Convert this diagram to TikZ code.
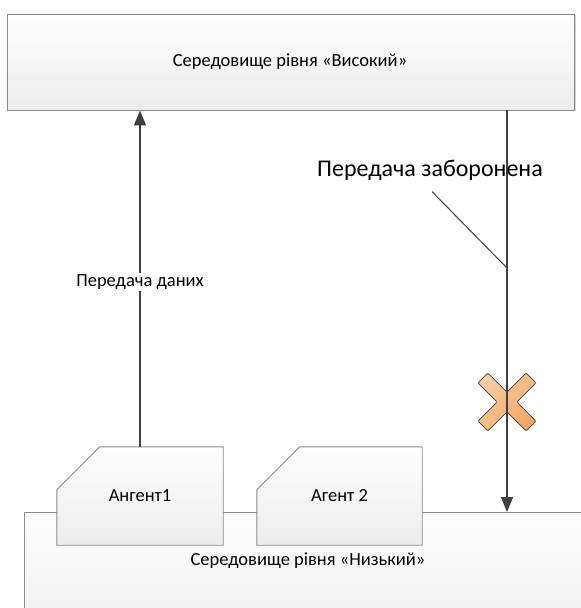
\documentclass[tikz,border=0pt]{standalone}
\usepackage{fontspec}
\setmainfont{Carlito}
\usetikzlibrary{arrows.meta,calc,shadows}

\definecolor{boxline}{HTML}{8A8A8A}
\definecolor{boxfill}{HTML}{ECECEC}
\definecolor{linkgray}{HTML}{404040}
\definecolor{crossfill}{HTML}{F4A865}
\definecolor{crosslight}{HTML}{F9CDA4}

\tikzset{
  envbox/.style={draw=boxline, line width=0.9bp, top color=white, bottom color=boxfill,
    inner sep=0pt},
  agentshape/.style={draw=boxline, line width=0.9bp, top color=white, bottom color=boxfill},
  agentbox/.style={inner sep=0pt, minimum height=98bp},
  txt/.style={font=\fontsize{18.5bp}{22bp}\selectfont, text=black},
  bigtxt/.style={font=\fontsize{24bp}{28bp}\selectfont, text=black},
  link/.style={draw=linkgray, line width=1.6bp, -{Triangle[length=15bp,width=12bp]}},
  pointer/.style={draw=linkgray, line width=1bp},
  crossmark/.style={draw=linkgray, line width=0.8bp, rounded corners=1.2bp,
    left color=crosslight, right color=crossfill, shading angle=45},
}

\begin{document}
\begin{tikzpicture}[x=1bp,y=-1bp]
  \useasboundingbox (0,0) rectangle (581,608);

  % upper environment
  \node[envbox, minimum width=567bp, minimum height=96bp,
        drop shadow={shadow xshift=1.5bp, shadow yshift=-1.5bp, opacity=0.35}]
        (high) at (290.5,62) {};
  \node[txt] (hightxt) at (290,62) {Середовище рівня «Високий»};

  % lower environment (runs past the right and bottom edges)
  \node[envbox, anchor=north west, minimum width=600bp, minimum height=140bp]
        (low) at (24,512) {};
  \node[txt] (lowtxt) at (308,561) {Середовище рівня «Низький»};

  % agents: boxes with a cut top-left corner
  \node[agentbox, minimum width=166bp] (a1) at (140,496) {};
  \node[agentbox, minimum width=165bp] (a2) at (339.5,496) {};
  \foreach \a in {a1,a2}{
    \path[agentshape] (\a.south west) -- ($(\a.north west)+(0,43)$)
      -- ($(\a.north west)+(43,0)$) -- (\a.north east) -- (\a.south east) -- cycle;
  }
  \node[txt] (a1txt) at (a1.center) {Ангент1};
  \node[txt] (a2txt) at (a2.center) {Агент 2};

  % allowed transfer: agent 1 up to the upper environment
  \draw[link] (a1.north) -- (high.south -| a1.north)
    node[pos=0.49, txt, fill=white, inner sep=1.5bp] (datalbl) {Передача даних};

  % forbidden transfer: upper environment down to the lower one
  \coordinate (dst) at (507,512);
  \coordinate (src) at (high.south -| dst);
  \coordinate (ptr) at (507,268);
  \coordinate (xc) at (507,402);

  % crossed-out mark on the forbidden transfer
  \begin{scope}[shift={(xc)}, rotate=45]
    \path[crossmark] (-7,34) -- (7,34) -- (7,7) -- (34,7) -- (34,-7) -- (7,-7)
      -- (7,-34) -- (-7,-34) -- (-7,-7) -- (-34,-7) -- (-34,7) -- (-7,7) -- cycle;
  \end{scope}

  \draw[link] (src) -- (dst);

  \node[bigtxt] (ban) at (430,170) {Передача заборонена};
  \draw[pointer] ($(ban.south)+(2,8)$) -- (ptr);
\end{tikzpicture}
\end{document}
